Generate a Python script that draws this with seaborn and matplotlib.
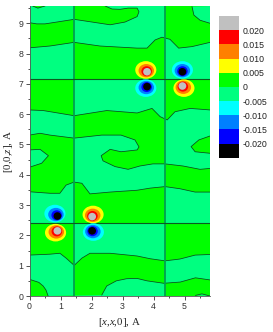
import numpy as np
import matplotlib
matplotlib.use('Agg')
import matplotlib.pyplot as plt
from matplotlib.colors import ListedColormap
from matplotlib.patches import Ellipse, Rectangle
from matplotlib.ticker import MultipleLocator
import seaborn as sns

# contour lines, x and z in angstrom
X_MAX = 5.82
Z_MAX = 9.57
node_x = [1.44, 4.38]
node_z = [2.40, 7.15]

c1_left_x = [0, 0.3, 0.44, 0.53, 0.6]
c1_left_z = [0.55, 0.45, 0.33, 0.2, 0]
c1_right_x = [2.33, 2.49, 2.8, 3.13, 3.47, 3.79, 4.33, 4.86, 5.35, 5.82]
c1_right_z = [0.03, 0.33, 0.5, 0.57, 0.58, 0.5, 0.42, 0.46, 0.6, 0.53]
c2_x = [0, 0.66, 0.98, 1.18, 1.44, 1.69, 1.95, 2.6, 3.47, 3.89, 4.37, 4.85, 5.34, 5.82]
c2_z = [1.35, 1.38, 1.41, 1.25, 1.01, 1.25, 1.41, 1.41, 1.32, 1.23, 1.16, 1.22, 1.35, 1.37]
c4_x = [0, 0.66, 0.98, 1.18, 1.44, 1.69, 1.95, 2.6, 3.47, 3.89, 4.37, 4.85, 5.34, 5.82]
c4_z = [3.44, 3.39, 3.39, 3.66, 3.76, 3.72, 3.37, 3.43, 3.49, 3.56, 3.61, 3.54, 3.43, 3.43]
c6_x = [0, 0.34, 0.66, 1.44, 2.33, 2.95, 3.4, 3.53, 3.47, 2.95, 2.6, 2.31, 2.37, 2.76, 3.18,
        3.56, 3.98, 4.37, 4.95, 5.5, 5.82]
c6_z = [5.31, 5.37, 5.31, 5.21, 5.31, 5.31, 5.15, 4.92, 4.82, 4.76, 4.84, 4.63, 4.46, 4.27, 4.18,
        4.29, 4.36, 4.36, 4.29, 4.18, 4.21]
c7_x = [0, 0.44, 1.44, 2.49, 3.47, 3.95, 4.21, 4.44, 4.69, 5.18, 5.82]
c7_z = [6.14, 6.12, 5.95, 6.12, 6.04, 6.19, 5.92, 5.81, 6.08, 6.19, 6.14]
c8_x = [0, 0.66, 1.44, 2.27, 3.47, 3.79, 4.05, 4.27, 4.53, 4.81, 5.24, 5.82]
c8_z = [8.19, 8.25, 8.37, 8.25, 8.18, 8.18, 8.45, 8.54, 8.47, 8.18, 8.23, 8.37]
c9_x = [0, 0.23, 0.5, 1.44, 2.6, 3.08, 3.47, 3.53, 3.47, 3.18, 2.92, 2.66, 2.44]
c9_z = [9.02, 8.98, 8.98, 9.13, 8.95, 9.04, 9.22, 9.38, 9.5, 9.5, 9.46, 9.47, 9.57]

# closed pockets along the frame
pocket_left_x = [0, 0.34, 0.61, 0.39, 0]
pocket_left_z = [4.82, 4.84, 4.63, 4.38, 4.25]
pocket_right_x = [5.82, 5.46, 5.21, 5.34, 5.82]
pocket_right_z = [5.28, 5.15, 4.93, 4.76, 4.71]
arc_top_left_x = [0.1, 0.27, 0.5]
arc_top_left_z = [9.57, 9.5, 9.57]
arc_top_right_x = [5.24, 5.3, 5.5, 5.82]
arc_top_right_z = [9.55, 9.27, 9.1, 9.0]
arc_bottom_x = [5.35, 5.56, 5.82]
arc_bottom_z = [0.02, 0.07, 0]

# dipole lobes: core position, outer ring shift, sign
lobe_x = [0.90, 0.90, 2.02, 2.02, 3.79, 3.79, 4.93, 4.93]
lobe_z = [2.64, 2.15, 2.62, 2.15, 7.40, 6.91, 7.40, 6.93]
lobe_dx = [-0.08, -0.06, 0.03, 0.04, -0.04, -0.04, 0.0, 0.05]
lobe_dz = [0.08, -0.06, 0.07, -0.04, 0.06, -0.05, 0.06, -0.07]
lobe_sign = [-1, 1, 1, -1, 1, -1, -1, 1]
ring_rx = [0.34, 0.25, 0.17, 0.125]
ring_rz = [0.29, 0.22, 0.165, 0.125]
ring_shift = [1.0, 0.6, 0.3, 0.0]

cbar_colors = ['#C0C0C0', '#FF0000', '#FF8000', '#FFFF00', '#00FF00',
               '#00FF80', '#00FFFF', '#0080FF', '#0000FF', '#000000']
cbar_labels = ['0.020', '0.015', '0.010', '0.005', '0',
               '-0.005', '-0.010', '-0.015', '-0.020']
GREEN = cbar_colors[4]
SPRING = cbar_colors[5]

sns.set_theme(style='white')
plt.rcParams['font.family'] = ['Liberation Sans', 'DejaVu Sans']
plt.rcParams['mathtext.fontset'] = 'custom'
plt.rcParams['mathtext.it'] = 'Liberation Serif:italic'
plt.rcParams['mathtext.rm'] = 'Liberation Serif'

W, H = 273, 332
fig = plt.figure(figsize=(W / 100, H / 100), dpi=100)
ax = fig.add_axes([29.5 / W, 36 / H, 180.5 / W, 290 / H])
ax.set_facecolor(GREEN)

c1_x = c1_left_x + c1_right_x
c1_z = c1_left_z + c1_right_z
edges = [([0, X_MAX], [0, 0]),
         (c1_x, c1_z),
         (c2_x, c2_z),
         ([0, X_MAX], [node_z[0]] * 2),
         (c4_x, c4_z),
         (c6_x, c6_z),
         (c7_x, c7_z),
         ([0, X_MAX], [node_z[1]] * 2),
         (c8_x, c8_z),
         (c9_x + [X_MAX], c9_z + [Z_MAX]),
         ([0, X_MAX], [Z_MAX, Z_MAX])]
columns = [(0, node_x[0], 1), (node_x[0], node_x[1], 0), (node_x[1], X_MAX, 1)]

# checkerboard: every nodal line flips the sign of the field
for x0, x1, first in columns:
    clip = Rectangle((x0, 0), x1 - x0, Z_MAX, transform=ax.transData)
    for i in range(first, len(edges) - 1, 2):
        lo_x, lo_z = edges[i]
        hi_x, hi_z = edges[i + 1]
        poly = ax.fill(list(lo_x) + list(hi_x)[::-1], list(lo_z) + list(hi_z)[::-1],
                       color=SPRING, lw=0, zorder=1)[0]
        poly.set_clip_path(clip)

ax.fill(pocket_left_x, pocket_left_z, color=SPRING, lw=0, zorder=1.5)
ax.fill(pocket_right_x, pocket_right_z, color=GREEN, lw=0, zorder=1.5)
ax.fill(arc_top_left_x, arc_top_left_z, color=GREEN, lw=0, zorder=1.5)
ax.fill(arc_top_right_x + [X_MAX], arc_top_right_z + [Z_MAX], color=SPRING, lw=0, zorder=1.5)
ax.fill(arc_bottom_x, arc_bottom_z, color=SPRING, lw=0, zorder=1.5)

lines = [(c1_left_x, c1_left_z), (c1_right_x, c1_right_z), (c2_x, c2_z), (c4_x, c4_z),
         (c6_x, c6_z), (c7_x, c7_z), (c8_x, c8_z), (c9_x, c9_z),
         (pocket_left_x, pocket_left_z), (pocket_right_x, pocket_right_z),
         (arc_top_left_x, arc_top_left_z), (arc_top_right_x, arc_top_right_z),
         (arc_bottom_x, arc_bottom_z)]
for lx, lz in lines:
    sns.lineplot(x=lx, y=lz, sort=False, estimator=None, color='#0A4A1C', lw=0.55, ax=ax, zorder=2)

for xv in node_x:
    ax.axvline(xv, color='#00A050', lw=1.3, zorder=2)
for zv in node_z:
    ax.axhline(zv, color='#0B5A20', lw=0.8, zorder=2)

warm = [cbar_colors[3], cbar_colors[2], cbar_colors[1], cbar_colors[0]]
cold = [cbar_colors[6], cbar_colors[7], cbar_colors[8], cbar_colors[9]]
for k in range(len(lobe_x)):
    ring_colors = warm if lobe_sign[k] > 0 else cold
    for j in range(4):
        ax.add_patch(Ellipse((lobe_x[k] + lobe_dx[k] * ring_shift[j], lobe_z[k] + lobe_dz[k] * ring_shift[j]),
                             2 * ring_rx[j], 2 * ring_rz[j], color=ring_colors[j], lw=0, zorder=3))

ax.set_xlim(0, X_MAX)
ax.set_ylim(0, Z_MAX)
ax.xaxis.set_major_locator(MultipleLocator(1))
ax.xaxis.set_minor_locator(MultipleLocator(0.5))
ax.yaxis.set_major_locator(MultipleLocator(1))
ax.yaxis.set_minor_locator(MultipleLocator(0.5))
ax.tick_params(which='major', direction='out', length=3, width=0.6, color='#333333',
               labelsize=6.3, labelcolor='#333333', pad=1.5, bottom=True, left=True)
ax.tick_params(which='minor', direction='out', length=1.5, width=0.6, color='#333333',
               bottom=True, left=True)
sns.despine(ax=ax, top=True, right=True)
for side in ['left', 'bottom']:
    ax.spines[side].set_linewidth(0.6)
    ax.spines[side].set_color('#555555')

ax.set_xlabel('[$\\mathit{x}$,$\\mathit{x}$,0], A', family='Liberation Serif', fontsize=7.8, color='#222222')
ax.set_ylabel('[0,0,$\\mathit{z}$], A', family='Liberation Serif', fontsize=7.8, color='#222222')
ax.xaxis.set_label_coords(0.5, -0.07)
ax.yaxis.set_label_coords(-0.08, 0.5)

# colour scale built as a one-column heatmap
cax = fig.add_axes([218.7 / W, (332 - 157.7) / H, 20.6 / W, 141.7 / H])
cells = np.arange(len(cbar_colors)).reshape(-1, 1)
sns.heatmap(cells, cmap=ListedColormap(cbar_colors), cbar=False, ax=cax,
            xticklabels=False, yticklabels=False)
cax.yaxis.tick_right()
cax.set_yticks(np.arange(1, len(cbar_colors)))
cax.set_yticklabels(cbar_labels, rotation=0, fontsize=6.3, color='#222222')
cax.tick_params(axis='y', length=0, pad=2.5)

fig.savefig('out.png', dpi=100)
